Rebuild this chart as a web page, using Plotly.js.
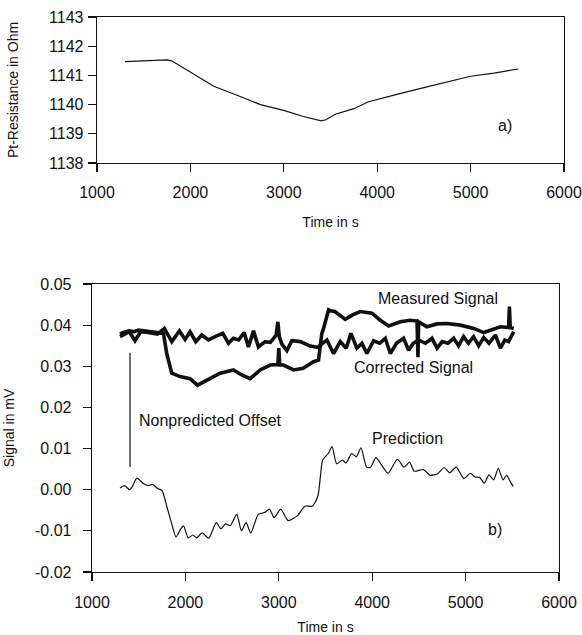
<!DOCTYPE html>
<html><head><meta charset="utf-8">
<script src="https://cdn.plot.ly/plotly-3.0.1.min.js"></script>
<style>html,body{margin:0;padding:0;background:#fff}#c{width:582px;height:635px}</style>
</head><body><div id="c"></div>
<script>
// ---- panel a) Pt resistance ----
const resTime = [1300,1500,1750,1800,1850,2000,2250,2500,2750,3000,3200,3400,3450,3550,3750,3900,4000,4200,4500,4750,5000,5250,5510];
const resOhm  = [1141.47,1141.5,1141.53,1141.5,1141.4,1141.12,1140.63,1140.32,1140.0,1139.8,1139.6,1139.44,1139.48,1139.67,1139.86,1140.09,1140.18,1140.34,1140.58,1140.77,1140.97,1141.08,1141.22];

// ---- panel b) signals ----
const measTime = [1300,1336,1400,1450,1497,1550,1600,1650,1700,1765,1800,1854,1943,2050,2129,2229,2372,2514,2604,2693,2800,2908,2990,3000,3010,3050,3157,3260,3372,3425,3461,3479,3533,3551,3600,3711,3790,3872,3997,4087,4176,4301,4408,4480,4490,4497,4587,4694,4800,4944,5087,5194,5283,5373,5460,5469,5478,5515];
const measSig  = [0.0378,0.0382,0.0386,0.0384,0.0388,0.0386,0.0385,0.0383,0.0381,0.0380,0.0331,0.0283,0.0275,0.0270,0.0254,0.0265,0.0283,0.0291,0.0279,0.0270,0.0291,0.0303,0.0304,0.0344,0.0303,0.0303,0.0291,0.0295,0.0311,0.0315,0.0380,0.0392,0.0437,0.0435,0.0433,0.0414,0.0425,0.0433,0.0429,0.0412,0.0398,0.0408,0.0412,0.0410,0.0322,0.0408,0.0396,0.0403,0.0404,0.0400,0.0392,0.0382,0.0388,0.0396,0.0394,0.0445,0.0394,0.0392];

const corrTime = [1300,1336,1400,1460,1520,1600,1700,1775,1854,1936,1997,2050,2111,2175,2247,2318,2400,2461,2514,2570,2629,2675,2729,2782,2854,2910,2972,2990,3005,3033,3087,3140,3230,3336,3415,3515,3586,3658,3722,3772,3836,3890,3943,4015,4080,4140,4194,4260,4336,4390,4440,4497,4570,4640,4694,4750,4810,4872,4925,4979,5030,5085,5140,5194,5250,5319,5373,5420,5460,5515];
const corrSig  = [0.0372,0.0376,0.0384,0.0362,0.0384,0.0382,0.0378,0.0392,0.0360,0.0386,0.0365,0.0384,0.0360,0.0376,0.0364,0.0372,0.0380,0.0356,0.0368,0.0364,0.0382,0.0347,0.0386,0.0347,0.0360,0.0358,0.0376,0.0408,0.0372,0.0354,0.0338,0.0362,0.0360,0.0349,0.0346,0.0364,0.0331,0.0360,0.0344,0.0380,0.0344,0.0356,0.0331,0.0362,0.0356,0.0368,0.0331,0.0356,0.0368,0.0339,0.0356,0.0364,0.0356,0.0368,0.0344,0.0360,0.0356,0.0368,0.0350,0.0372,0.0356,0.0372,0.0350,0.0370,0.0356,0.0376,0.0344,0.0364,0.0360,0.0384];

const predTime = [1300,1350,1400,1430,1480,1550,1600,1650,1700,1750,1800,1850,1900,1950,1980,2030,2080,2120,2180,2250,2330,2380,2430,2480,2550,2600,2650,2700,2780,2850,2900,2950,3020,3100,3200,3280,3360,3420,3470,3530,3570,3620,3680,3720,3780,3830,3880,3940,3980,4040,4100,4170,4270,4340,4400,4450,4550,4620,4700,4770,4830,4900,4980,5050,5100,5150,5200,5250,5300,5350,5400,5440,5480,5510];
const predSig  = [0.0004,0.0010,0.0000,0.0007,0.0028,0.0015,0.0010,0.0013,0.0003,-0.0002,-0.0040,-0.0080,-0.0115,-0.0095,-0.0088,-0.0117,-0.0110,-0.0117,-0.0105,-0.0118,-0.0080,-0.0095,-0.0083,-0.0087,-0.0060,-0.0100,-0.0080,-0.0105,-0.0060,-0.0055,-0.0047,-0.0068,-0.0047,-0.0075,-0.0063,-0.0040,-0.0040,-0.0014,0.0072,0.0088,0.0105,0.0063,0.0072,0.0065,0.0088,0.0080,0.0102,0.0055,0.0054,0.0078,0.0060,0.0040,0.0074,0.0055,0.0067,0.0045,0.0049,0.0035,0.0039,0.0054,0.0041,0.0055,0.0027,0.0040,0.0031,0.0030,0.0016,0.0036,0.0024,0.0052,0.0024,0.0035,0.0019,0.0008];

const offsetTime = [1407,1407];
const offsetSig  = [0.0333,0.0055];

const xTicks = [1000,2000,3000,4000,5000,6000];
const resTicks = [1138,1139,1140,1141,1142,1143];
const sigTicks = [-0.02,-0.01,0.00,0.01,0.02,0.03,0.04,0.05];
const sigTickText = ['-0.02','-0.01','0.00','0.01','0.02','0.03','0.04','0.05'];

const FONT = 'Liberation Sans, Arial, Helvetica, sans-serif';
const INK = '#111';

const traces = [
  {x: resTime, y: resOhm, xaxis:'x', yaxis:'y', mode:'lines', line:{color:INK, width:1.2}},
  {x: measTime, y: measSig, xaxis:'x2', yaxis:'y2', mode:'lines', line:{color:INK, width:3.6}},
  {x: corrTime, y: corrSig, xaxis:'x2', yaxis:'y2', mode:'lines', line:{color:INK, width:3.6}},
  {x: predTime, y: predSig, xaxis:'x2', yaxis:'y2', mode:'lines', line:{color:INK, width:1.2, shape:'spline', smoothing:0.6}},
  {x: offsetTime, y: offsetSig, xaxis:'x2', yaxis:'y2', mode:'lines', line:{color:INK, width:1.2}}
];

const axBase = {
  showline:true, linecolor:INK, linewidth:1.3, mirror:true, showgrid:false, zeroline:false,
  ticks:'outside', ticklen:8, tickwidth:1.2, tickcolor:INK,
  tickfont:{family:FONT, size:16, color:INK}
};
const TF = {family:FONT, size:14, color:INK};
const AF = {family:FONT, size:16, color:INK};

const layout = {
  width:582, height:635, margin:{l:0,r:0,t:0,b:0},
  paper_bgcolor:'#fff', plot_bgcolor:'#fff', showlegend:false,
  xaxis: Object.assign({}, axBase, {domain:[0.16667,0.96907], range:[1000,6000], tickvals:xTicks, anchor:'y', ticklabelstandoff:7,
    title:{text:'Time in s', font:TF, standoff:16}}),
  yaxis: Object.assign({}, axBase, {domain:[0.74331,0.97323], range:[1138,1143], tickvals:resTicks, anchor:'x', ticklabelstandoff:1,
    title:{text:'Pt-Resistance in Ohm', font:TF, standoff:27}}),
  xaxis2: Object.assign({}, axBase, {domain:[0.15808,0.96048], range:[1000,6000], tickvals:xTicks, anchor:'y2', ticklabelstandoff:7,
    title:{text:'Time in s', font:TF, standoff:14}}),
  yaxis2: Object.assign({}, axBase, {domain:[0.09921,0.55276], range:[-0.02,0.05], tickvals:sigTicks, ticktext:sigTickText, anchor:'x2', ticklabelstandoff:8,
    title:{text:'Signal in mV', font:TF, standoff:17}}),
  annotations: [
    {text:'a)', x:5368, y:1139.3, xref:'x', yref:'y', showarrow:false, font:AF},
    {text:'b)', x:5320, y:-0.0097, xref:'x2', yref:'y2', showarrow:false, font:AF},
    {text:'Measured Signal', x:4708, y:0.0464, xref:'x2', yref:'y2', showarrow:false, font:AF},
    {text:'Corrected Signal', x:4440, y:0.0298, xref:'x2', yref:'y2', showarrow:false, font:AF},
    {text:'Nonpredicted Offset', x:1482, y:0.0169, xref:'x2', yref:'y2', xanchor:'left', showarrow:false, font:AF},
    {text:'Prediction', x:4376, y:0.0125, xref:'x2', yref:'y2', showarrow:false, font:AF}
  ]
};

Plotly.newPlot('c', traces, layout, {staticPlot:true, displayModeBar:false});
</script>
</body></html>
